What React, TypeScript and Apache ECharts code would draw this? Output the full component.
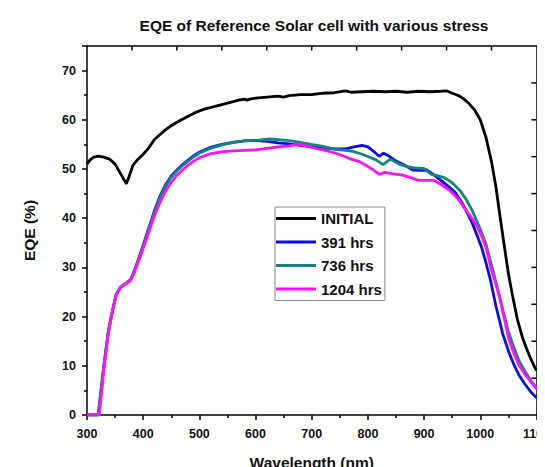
import React, { useEffect, useRef } from "react";
import * as echarts from "echarts";

const seriesNames = ["INITIAL", "391 hrs", "736 hrs", "1204 hrs"];
const seriesColors = ["#000000", "#0a0aee", "#14857a", "#ff10ff"];

const X_MIN = 300;
const X_MAX = 1100;
const Y_MIN = 0;
const Y_MAX = 75;

// tick positions of the unlabeled top and right frame axes
const topTicks = [380, 460, 540, 620, 700, 780, 860, 940, 1020];
const rightTicks = [7.5, 15, 22.5, 30, 37.5, 45, 52.5, 60, 67.5];

const initial: [number, number][] = [
  [300, 51.0], [305, 51.8], [312, 52.4], [320, 52.6], [330, 52.4], [340, 52.0], [350, 51.0],
  [360, 49.0], [370, 47.0], [375, 48.5], [382, 50.8], [390, 51.9], [400, 53.0], [410, 54.3],
  [420, 56.0], [430, 57.0], [440, 58.0], [450, 58.8], [460, 59.5], [470, 60.1], [480, 60.7],
  [490, 61.3], [500, 61.8], [510, 62.2], [520, 62.5], [530, 62.8], [540, 63.1], [550, 63.4],
  [560, 63.7], [570, 64.0], [580, 64.2], [585, 64.0], [590, 64.2], [600, 64.4], [620, 64.6],
  [640, 64.8], [650, 64.6], [660, 64.9], [680, 65.1], [700, 65.1], [720, 65.4], [740, 65.5],
  [760, 65.9], [770, 65.6], [790, 65.7], [810, 65.8], [830, 65.7], [850, 65.8], [870, 65.6],
  [890, 65.8], [910, 65.7], [930, 65.8], [940, 65.9], [950, 65.4], [960, 65.0], [970, 64.3],
  [980, 63.3], [990, 62.0], [1000, 60.0], [1010, 56.5], [1020, 51.5], [1028, 46.3], [1035, 40.5],
  [1043, 34.2], [1050, 28.8], [1057, 24.5], [1066, 19.5], [1075, 15.8], [1082, 13.6], [1090, 11.4],
  [1100, 9.0],
];

const hrs391: [number, number][] = [
  [300, 0], [320, 0], [330, 10], [338, 17], [345, 21], [352, 24.5], [360, 26], [370, 26.8],
  [378, 27.6], [385, 29.5], [392, 31.8], [400, 34.5], [410, 38], [420, 41.5], [430, 44.5],
  [440, 46.8], [450, 48.6], [460, 49.8], [470, 50.9], [480, 51.8], [490, 52.7], [500, 53.4],
  [520, 54.4], [540, 55.0], [560, 55.4], [580, 55.7], [600, 55.8], [620, 55.6], [640, 55.3],
  [660, 55.1], [680, 54.8], [700, 54.5], [720, 54.3], [740, 54.1], [760, 54.1], [775, 54.5],
  [790, 54.8], [800, 54.5], [810, 53.6], [820, 52.6], [828, 53.2], [835, 52.8], [850, 51.6],
  [865, 50.8], [880, 49.8], [895, 49.7], [905, 49.8], [915, 49.0], [930, 47.7], [945, 46.3],
  [955, 45.3], [965, 43.6], [975, 41.5], [985, 39.2], [993, 36.9], [1002, 34.2], [1010, 31.0],
  [1018, 27.5], [1028, 22.1], [1040, 16.5], [1051, 12.7], [1060, 10.2], [1069, 8.1], [1080, 6.2],
  [1090, 4.7], [1100, 3.5],
];

const hrs736: [number, number][] = [
  [300, 0], [320, 0], [330, 10], [338, 17], [345, 21], [352, 24.5], [360, 26], [370, 26.8],
  [378, 27.6], [385, 29.4], [392, 31.6], [400, 34.3], [410, 37.8], [420, 41.2], [430, 44.2],
  [440, 46.5], [450, 48.3], [460, 49.6], [470, 50.7], [480, 51.6], [490, 52.5], [500, 53.2],
  [520, 54.2], [540, 54.9], [560, 55.4], [580, 55.7], [600, 55.8], [626, 56.1], [645, 55.9],
  [663, 55.7], [680, 55.4], [699, 55.0], [720, 54.6], [742, 54.0], [760, 53.8], [773, 53.6],
  [790, 53.0], [803, 52.4], [815, 51.8], [827, 50.9], [840, 52.0], [855, 51.0], [870, 50.5],
  [885, 50.2], [900, 50.1], [913, 48.9], [925, 48.6], [937, 48.2], [950, 47.2], [964, 45.6],
  [975, 43.8], [986, 41.5], [993, 39.6], [1000, 37.8], [1010, 34.8], [1020, 30.5], [1030, 26.0],
  [1041, 21.0], [1050, 17.0], [1059, 14.0], [1069, 11.0], [1080, 8.8], [1090, 7.0], [1100, 5.6],
];

const hrs1204: [number, number][] = [
  [300, 0], [322, 0], [330, 9], [338, 16.5], [345, 21], [352, 24.5], [360, 26], [370, 26.7],
  [378, 27.4], [385, 29.2], [392, 31.3], [400, 33.8], [410, 37.2], [420, 40.5], [430, 43.2],
  [440, 45.5], [450, 47.3], [460, 48.7], [470, 49.8], [480, 50.8], [490, 51.6], [500, 52.3],
  [520, 53.1], [540, 53.5], [560, 53.7], [580, 53.8], [600, 53.9], [620, 54.2], [640, 54.5],
  [660, 54.7], [675, 55.0], [690, 54.7], [700, 54.4], [720, 53.9], [740, 53.3], [760, 52.5],
  [770, 52.0], [785, 51.5], [800, 50.5], [810, 49.8], [820, 48.9], [830, 49.3], [845, 49.0],
  [860, 48.8], [875, 48.3], [890, 47.7], [905, 47.7], [917, 47.7], [930, 46.9], [946, 45.6],
  [960, 44.0], [975, 41.6], [985, 40.0], [993, 38.6], [1002, 36.5], [1010, 34.2], [1020, 29.5],
  [1034, 24.2], [1043, 19.5], [1051, 15.4], [1060, 12.5], [1069, 10.1], [1080, 8.2], [1090, 6.8],
  [1100, 5.3],
];

const allSeries = [initial, hrs391, hrs736, hrs1204];

const FONT = "'Liberation Sans', Arial, sans-serif";

export default function App() {
  const ref = useRef<HTMLDivElement>(null);
  useEffect(() => {
    if (!ref.current) return;
    const chart = echarts.init(ref.current, undefined, { renderer: "svg" });
    const mkLine = () => ({ show: true, onZero: false, lineStyle: { color: "#000", width: 1.5 } });
    const mkTick = () => ({ color: "#000", width: 1.5 });
    const lineSeries = allSeries.map((d, i) => ({
      name: seriesNames[i],
      type: "line",
      data: d,
      symbol: "none",
      showSymbol: false,
      color: seriesColors[i],
      lineStyle: { color: seriesColors[i], width: 2.8 },
      z: 2 + i,
    }));
    const topTickSeries = {
      type: "custom",
      silent: true,
      clip: false,
      z: 10,
      data: topTicks.map((v) => [v, Y_MAX]),
      renderItem: (_p: any, api: any) => {
        const pt = api.coord([api.value(0), api.value(1)]);
        return {
          type: "line",
          shape: { x1: pt[0], y1: pt[1], x2: pt[0], y2: pt[1] + 4.5 },
          style: { stroke: "#000", lineWidth: 1.5 },
        };
      },
    };
    const rightTickSeries = {
      type: "custom",
      silent: true,
      clip: false,
      z: 10,
      data: rightTicks.map((v) => [X_MAX, v]),
      renderItem: (_p: any, api: any) => {
        const pt = api.coord([api.value(0), api.value(1)]);
        return {
          type: "line",
          shape: { x1: pt[0] - 5, y1: pt[1], x2: pt[0], y2: pt[1] },
          style: { stroke: "#000", lineWidth: 1.5 },
        };
      },
    };
    chart.setOption({
      animation: false,
      backgroundColor: "#fff",
      tooltip: { show: false },
      title: {
        text: "EQE of Reference Solar cell with various stress",
        left: 306,
        textAlign: "center",
        top: 9,
        padding: 0,
        textStyle: { fontFamily: FONT, fontWeight: "bold", fontSize: 15.5, color: "#111" },
      },
      grid: { left: 79, right: 11, top: 38, bottom: 57 },
      legend: {
        orient: "vertical",
        left: 267,
        top: 199,
        padding: [4, 3, 4, 1],
        borderColor: "#888",
        borderWidth: 1,
        itemWidth: 40,
        itemHeight: 14,
        itemGap: 8.5,
        itemTextGap: 3,
        icon: "path://M0,0 L40,0 L40,3.2 L0,3.2 Z",
        symbolKeepAspect: true,
        data: seriesNames,
        textStyle: { fontFamily: FONT, fontWeight: "bold", fontSize: 15, color: "#111" },
      },
      xAxis: [
        {
          type: "value",
          min: X_MIN,
          max: X_MAX,
          interval: 100,
          position: "bottom",
          name: "Wavelength (nm)",
          nameLocation: "middle",
          nameGap: 39,
          nameTextStyle: { fontFamily: FONT, fontWeight: "bold", fontSize: 15.5, color: "#111" },
          axisLine: mkLine(),
          axisTick: { show: true, inside: false, length: 5, lineStyle: mkTick() },
          minorTick: { show: true, splitNumber: 2, length: 3, lineStyle: mkTick() },
          axisLabel: {
            fontFamily: FONT,
            fontWeight: "bold",
            fontSize: 12.5,
            color: "#111",
            margin: 12,
            formatter: (v: number) => String(v),
          },
          splitLine: { show: false },
        },
        {
          type: "value",
          min: X_MIN,
          max: X_MAX,
          position: "top",
          axisLine: mkLine(),
          axisTick: { show: false },
          axisLabel: { show: false },
          splitLine: { show: false },
        },
      ],
      yAxis: [
        {
          type: "value",
          min: Y_MIN,
          max: Y_MAX,
          interval: 10,
          position: "left",
          name: "EQE (%)",
          nameLocation: "middle",
          nameGap: 50,
          nameTextStyle: { fontFamily: FONT, fontWeight: "bold", fontSize: 15.5, color: "#111" },
          axisLine: mkLine(),
          axisTick: { show: true, inside: false, length: 5, lineStyle: mkTick() },
          minorTick: { show: true, splitNumber: 2, length: 3, lineStyle: mkTick() },
          axisLabel: {
            fontFamily: FONT,
            fontWeight: "bold",
            fontSize: 12.5,
            color: "#111",
            margin: 11,
            formatter: (v: number) => (v % 10 === 0 ? String(v) : ""),
          },
          splitLine: { show: false },
        },
        {
          type: "value",
          min: Y_MIN,
          max: Y_MAX,
          position: "right",
          axisLine: mkLine(),
          axisTick: { show: false },
          axisLabel: { show: false },
          splitLine: { show: false },
        },
      ],
      series: [...lineSeries, topTickSeries, rightTickSeries],
    });
    return () => chart.dispose();
  }, []);
  return (
    <div
      ref={ref}
      style={{ position: "fixed", left: 0, top: 0, width: 545, height: 467, background: "#fff" }}
    />
  );
}
